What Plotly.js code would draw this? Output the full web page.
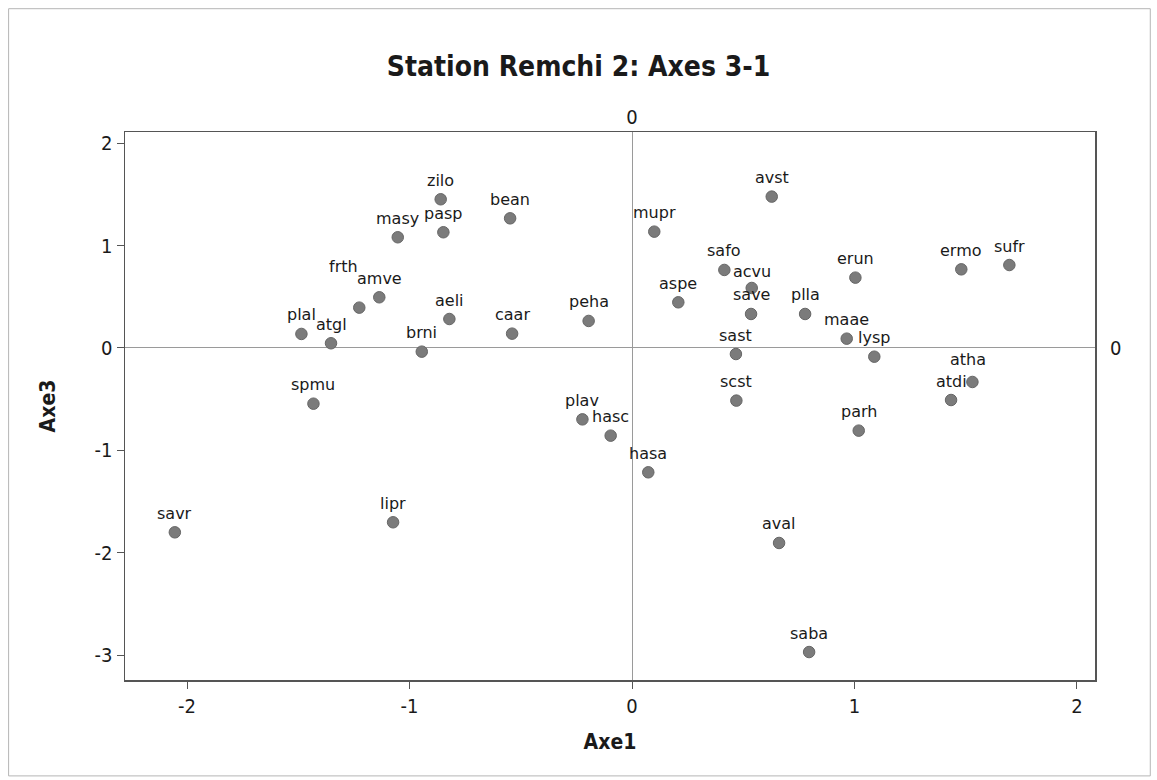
<!DOCTYPE html>
<html>
<head>
<meta charset="utf-8">
<script src="https://cdn.plot.ly/plotly-3.0.1.min.js"></script>
<style>
html,body{margin:0;padding:0;background:#fff;}
#chart{width:1157px;height:780px;}
</style>
</head>
<body>
<div id="chart"></div>
<script>
// Species codes
const species = ["zilo","bean","masy","pasp","frth","amve","plal","atgl","aeli","brni","caar","peha",
  "mupr","avst","safo","acvu","save","aspe","plla","erun","ermo","sufr","maae","lysp","sast",
  "spmu","plav","hasc","savr","lipr","scst","atdi","atha","parh","hasa","aval","saba"];
// Axe1 coordinates
const axe1 = [-0.86,-0.548,-1.053,-0.848,-1.226,-1.136,-1.486,-1.353,-0.821,-0.945,-0.539,-0.195,
  0.10,0.628,0.415,0.538,0.535,0.208,0.778,1.004,1.48,1.696,0.965,1.089,0.467,
  -1.432,-0.223,-0.096,-2.055,-1.074,0.469,1.434,1.53,1.019,0.073,0.661,0.796];
// Axe3 coordinates
const axe3 = [1.452,1.266,1.081,1.13,0.394,0.495,0.137,0.046,0.283,-0.036,0.14,0.264,
  1.136,1.478,0.762,0.586,0.332,0.446,0.332,0.687,0.768,0.81,0.091,-0.085,-0.059,
  -0.544,-0.697,-0.856,-1.80,-1.702,-0.514,-0.508,-0.332,-0.807,-1.214,-1.904,-2.969];
const xTicks = [-2,-1,0,1,2];
const yTicks = [2,1,0,-1,-2,-3];

const condensed = "'DejaVu Sans Condensed', 'DejaVu Sans', sans-serif";
const labelFont = {family: "'DejaVu Sans', sans-serif", size: 16, color: "#1a1a1a"};

// label placement nudges (pixels) where the original moved a label
const nudge = {frth: {dx: -16, dy: 41}, acvu: {dx: 0, dy: 16}, atha: {dx: -4, dy: 22}};

const annotations = species.map((s, i) => {
  const n = nudge[s] || {dx: 0, dy: 19};
  return {
    x: axe1[i], y: axe3[i], xref: "x", yref: "y", text: s, showarrow: false,
    xanchor: "center", yanchor: "middle", xshift: n.dx, yshift: n.dy, font: labelFont
  };
});

const traces = [
  {
    type: "scatter", mode: "markers",
    x: axe1, y: axe3, text: species,
    marker: {size: 11.5, color: "#7b7b7b", line: {color: "#666", width: 1}},
    hoverinfo: "text", showlegend: false, cliponaxis: false
  },
  {
    type: "scatter", mode: "markers", x: [0], y: [0], xaxis: "x2", yaxis: "y2",
    marker: {opacity: 0}, hoverinfo: "skip", showlegend: false
  }
];

const layout = {
  width: 1157, height: 780,
  paper_bgcolor: "#ffffff", plot_bgcolor: "#ffffff",
  margin: {l: 125, r: 62, t: 132, b: 100},
  title: {
    text: "<b>Station Remchi 2: Axes 3-1</b>",
    font: {family: condensed, size: 28, color: "#1a1a1a"},
    x: 0.5, xanchor: "center", y: 0.915, yanchor: "middle"
  },
  annotations: annotations,
  xaxis: {
    range: [-2.279, 2.081], tickvals: xTicks, ticktext: xTicks.map(String),
    showgrid: false, zeroline: true, zerolinecolor: "#9a9a9a", zerolinewidth: 1,
    showline: true, linecolor: "#555", linewidth: 1.5, mirror: true,
    ticks: "outside", ticklen: 7, tickcolor: "#555",
    tickfont: {family: condensed, size: 20, color: "#1a1a1a"},
    title: {text: "<b>Axe1</b>", font: {family: condensed, size: 21, color: "#1a1a1a"}, standoff: 18}
  },
  yaxis: {
    range: [-3.242, 2.109], tickvals: yTicks, ticktext: yTicks.map(String),
    showgrid: false, zeroline: true, zerolinecolor: "#9a9a9a", zerolinewidth: 1,
    showline: true, linecolor: "#555", linewidth: 1.5, mirror: true,
    ticks: "outside", ticklen: 7, tickcolor: "#555",
    tickfont: {family: condensed, size: 20, color: "#1a1a1a"},
    title: {text: "<b>Axe3</b>", font: {family: condensed, size: 21, color: "#1a1a1a"}, standoff: 33}
  },
  xaxis2: {
    overlaying: "x", side: "top", range: [-2.279, 2.081], tickvals: [0], ticktext: ["0"],
    showgrid: false, zeroline: false, showline: false, ticks: "",
    tickfont: {family: condensed, size: 20, color: "#1a1a1a"}, ticklabelstandoff: 3
  },
  yaxis2: {
    overlaying: "y", side: "right", range: [-3.242, 2.109], tickvals: [0], ticktext: ["0"],
    showgrid: false, zeroline: false, showline: false, ticks: "",
    tickfont: {family: condensed, size: 20, color: "#1a1a1a"}, ticklabelstandoff: 14
  },
  shapes: [{
    type: "rect", xref: "paper", yref: "paper",
    x0: -0.120, x1: 1.057, y0: -0.175, y1: 1.225,
    line: {color: "#b5b5b5", width: 1}
  }]
};

Plotly.newPlot("chart", traces, layout, {staticPlot: true, displayModeBar: false});
</script>
</body>
</html>
